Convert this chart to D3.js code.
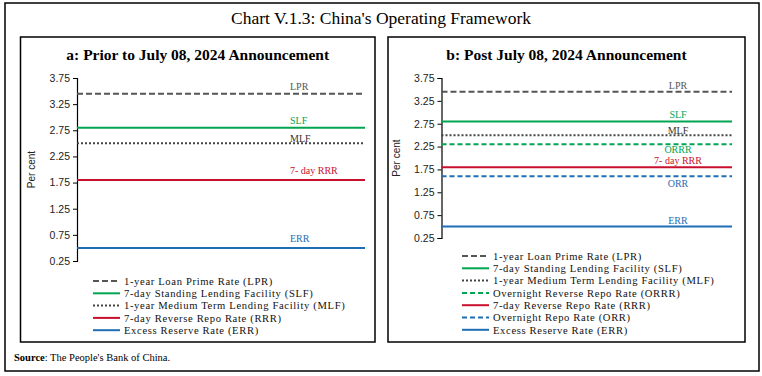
<!DOCTYPE html>
<html>
<head>
<meta charset="utf-8">
<script src="https://cdn.jsdelivr.net/npm/d3@7"></script>
<style>
  body { margin: 0; background: #fff; }
  text { font-family: 'Liberation Serif', 'DejaVu Serif', serif; }
  .tick text { font-family: 'Liberation Sans', 'Noto Sans', sans-serif; }
</style>
</head>
<body>
<svg id="area" width="762" height="376"></svg>
<script>
// values (per cent)
const seriesA = ['LPR', 'SLF', 'MLF', 'RRR', 'ERR'];
const valuesA = [3.45, 2.80, 2.50, 1.80, 0.50];
const seriesB = ['LPR', 'SLF', 'MLF', 'ORRR', 'RRR', 'ORR', 'ERR'];
const valuesB = [3.45, 2.80, 2.50, 2.30, 1.80, 1.60, 0.50];
const yTicks = [0.25, 0.75, 1.25, 1.75, 2.25, 2.75, 3.25, 3.75];
const legendNames = {
  LPR: '1-year Loan Prime Rate (LPR)',
  SLF: '7-day Standing Lending Facility (SLF)',
  MLF: '1-year Medium Term Lending Facility (MLF)',
  ORRR: 'Overnight Reverse Repo Rate (ORRR)',
  RRR: '7-day Reverse Repo Rate (RRR)',
  ORR: 'Overnight Repo Rate (ORR)',
  ERR: 'Excess Reserve Rate (ERR)',
};
const shortNames = {
  LPR: 'LPR', SLF: 'SLF', MLF: 'MLF', ORRR: 'ORRR', RRR: '7- day RRR', ORR: 'ORR', ERR: 'ERR',
};

const style = {
  LPR: { color: '#555555', dash: '6,3', label: '#555555' },
  SLF: { color: '#00a551', dash: null, label: '#00a551' },
  MLF: { color: '#444444', dash: '2,2', label: '#333333' },
  ORRR: { color: '#00a551', dash: '5,3', label: '#00a551' },
  RRR: { color: '#c8102e', dash: null, label: '#c8102e' },
  ORR: { color: '#1f6db5', dash: '5,3', label: '#1f6db5' },
  ERR: { color: '#1f6db5', dash: null, label: '#1f6db5' },
};

const svg = d3.select('#area');

svg.append('rect')
  .attr('x', 5).attr('y', 3).attr('width', 754).attr('height', 368)
  .attr('fill', 'none').attr('stroke', '#000').attr('stroke-width', 1.5);

svg.append('text')
  .attr('x', 381).attr('y', 24)
  .attr('text-anchor', 'middle')
  .style('font-size', '17.5px')
  .text("Chart V.1.3: China's Operating Framework");

svg.append('text')
  .attr('x', 14).attr('y', 361)
  .style('font-size', '10.5px')
  .call((t) => {
    t.append('tspan').style('font-weight', 'bold').text('Source');
    t.append('tspan').text(": The People's Bank of China.");
  });

function panel(opts) {
  const { names, values, box, xr, yr, title, labelX, anchor, labelDy, legend } = opts;
  const g = svg.append('g');

  g.append('rect')
    .attr('x', box[0]).attr('y', box[1])
    .attr('width', box[2] - box[0]).attr('height', box[3] - box[1])
    .attr('fill', 'none').attr('stroke', '#000').attr('stroke-width', 1.5);

  g.append('text')
    .attr('x', (box[0] + box[2]) / 2).attr('y', 60)
    .attr('text-anchor', 'middle')
    .style('font-size', '15.5px')
    .style('font-weight', 'bold')
    .text(title);

  const x = d3.scaleLinear().domain([0, 1]).range(xr);
  const y = d3.scaleLinear().domain([0.25, 3.75]).range(yr);

  const yAxis = d3.axisLeft(y)
    .tickValues(yTicks)
    .tickFormat(d3.format('.2f'))
    .tickSize(4)
    .tickPadding(3);

  const ax = g.append('g')
    .attr('transform', `translate(${xr[0]}, 0)`)
    .call(yAxis);
  ax.select('.domain').attr('stroke', '#000').attr('stroke-width', 1.2);
  ax.selectAll('.tick line').attr('stroke', '#000');
  ax.selectAll('.tick text').style('font-size', '10.5px').attr('fill', '#222');

  g.append('text')
    .attr('transform', `translate(${xr[0] - 42}, ${(yr[0] + yr[1]) / 2}) rotate(-90)`)
    .attr('text-anchor', 'middle')
    .style('font-family', "'Liberation Sans', sans-serif")
    .style('font-size', '10px')
    .attr('fill', '#222')
    .text('Per cent');

  const rows = names.map((n, i) => ({ name: n, value: values[i] }));

  g.selectAll('line.rate')
    .data(rows)
    .enter().append('line')
    .attr('class', 'rate')
    .attr('x1', x(0)).attr('x2', x(1))
    .attr('y1', (d) => y(d.value)).attr('y2', (d) => y(d.value))
    .attr('stroke', (d) => style[d.name].color)
    .attr('stroke-width', 2)
    .attr('stroke-dasharray', (d) => style[d.name].dash);

  g.selectAll('text.lab')
    .data(rows)
    .enter().append('text')
    .attr('class', 'lab')
    .attr('x', labelX)
    .attr('y', (d) => y(d.value) + labelDy[d.name] + 3.5)
    .attr('text-anchor', anchor)
    .style('font-size', '10px')
    .attr('fill', (d) => style[d.name].label)
    .text((d) => shortNames[d.name]);

  const lg = g.append('g');
  const item = lg.selectAll('g')
    .data(names)
    .enter().append('g')
    .attr('transform', (d, i) => `translate(0, ${legend.y0 + i * legend.step})`);
  item.append('line')
    .attr('x1', legend.x).attr('x2', legend.x + 27)
    .attr('stroke', (d) => style[d].color)
    .attr('stroke-width', 2)
    .attr('stroke-dasharray', (d) => style[d].dash);
  item.append('text')
    .attr('x', legend.x + 31)
    .attr('y', 3.8)
    .style('font-size', '10.6px')
    .style('letter-spacing', '0.65px')
    .attr('fill', '#111')
    .text((d) => legendNames[d]);
}

panel({
  names: seriesA,
  values: valuesA,
  box: [20.5, 37, 375, 342],
  xr: [77, 365],
  yr: [261, 78],
  title: 'a: Prior to July 08, 2024 Announcement',
  labelX: 290,
  anchor: 'start',
  labelDy: { LPR: -7.5, SLF: -7.5, MLF: -5, RRR: -9, ERR: -9 },
  legend: { x: 93, y0: 281, step: 12.3 },
});

panel({
  names: seriesB,
  values: valuesB,
  box: [388, 37, 745, 342],
  xr: [441.5, 732],
  yr: [238, 78],
  title: 'b: Post July 08, 2024 Announcement',
  labelX: 678,
  anchor: 'middle',
  labelDy: { LPR: -6.5, SLF: -7, MLF: -5, ORRR: 5, RRR: -6.5, ORR: 7, ERR: -6.5 },
  legend: { x: 462, y0: 256, step: 12.3 },
});
</script>
</body>
</html>
